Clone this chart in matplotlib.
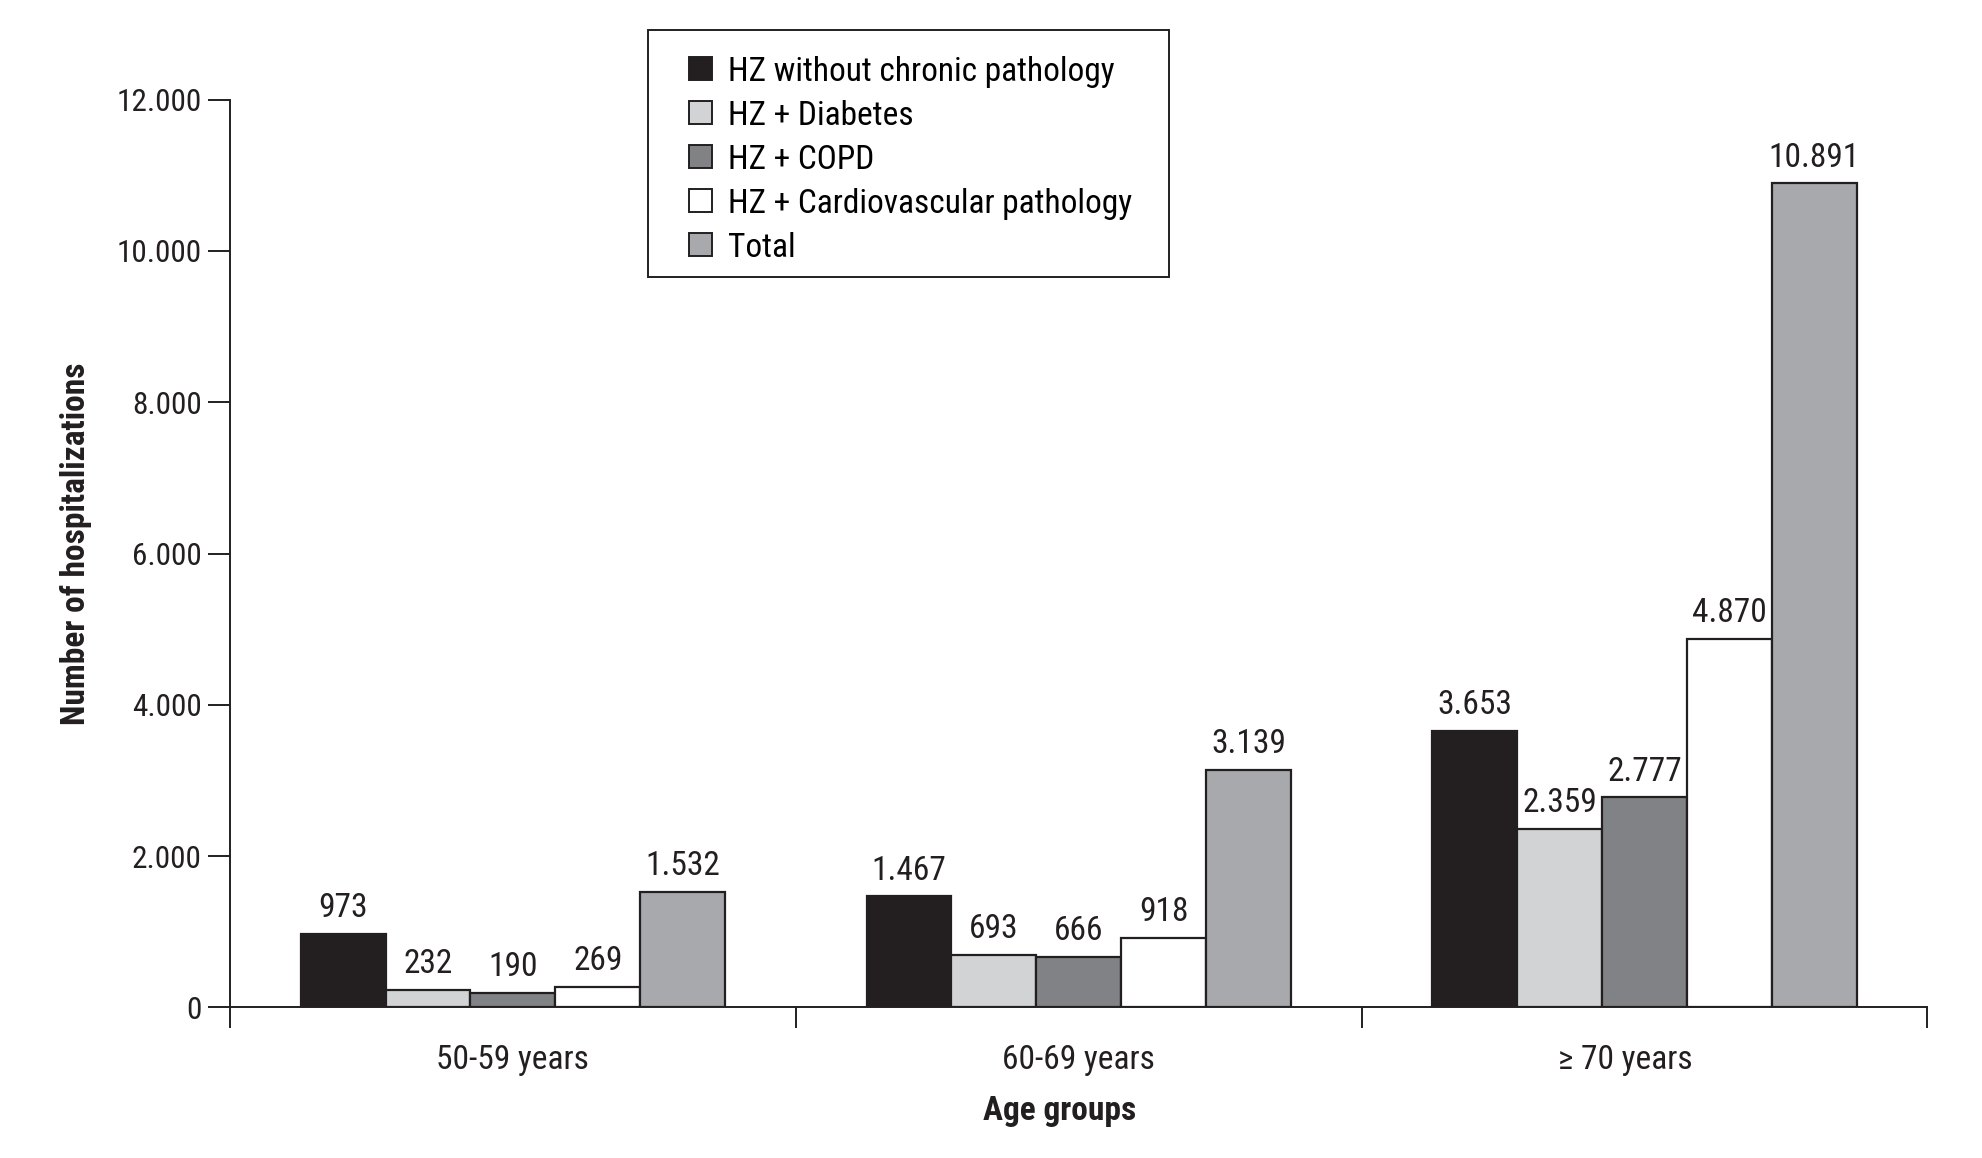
import numpy as np
import matplotlib
matplotlib.use("Agg")
import matplotlib.pyplot as plt
import matplotlib.transforms as mtransforms
from matplotlib import font_manager as fm
from matplotlib.patches import Rectangle
from matplotlib.legend_handler import HandlerPatch

# condensed sans close to the original Helvetica Condensed
available = {f.name for f in fm.fontManager.ttflist}
candidates = ['Roboto Condensed', 'Archivo Narrow', 'DejaVu Sans']
family = [c for c in candidates if c in available] + ['DejaVu Sans']
plt.rcParams['font.family'] = family
if family[0] == 'DejaVu Sans':
    plt.rcParams['font.stretch'] = 'condensed'

# data
age_groups = ['50-59 years', '60-69 years', '\u2265 70 years']
series_names = ['HZ without chronic pathology', 'HZ + Diabetes', 'HZ + COPD',
                'HZ + Cardiovascular pathology', 'Total']
no_chronic = [973, 1467, 3653]
diabetes = [232, 693, 2359]
copd = [190, 666, 2777]
cardio = [269, 918, 4870]
total = [1532, 3139, 10891]
y_ticks = [0, 2000, 4000, 6000, 8000, 10000, 12000]

colors = ['#231f20', '#d1d3d4', '#808285', '#ffffff', '#a7a9ac']
ink = '#231f20'


def fmt(v):
    # thousands separator is a dot
    return f"{v:,}".replace(',', '.')


def square_patch(legend, orig_handle, xdescent, ydescent, width, height, fontsize):
    # small square swatch, centred vertically in the row
    side = 16.5
    return Rectangle((-xdescent, -ydescent + (height - side) / 2), side, side)


fig = plt.figure(figsize=(19.83, 11.58), dpi=100)
ax = fig.add_axes([0.116, 0.130, 0.856, 0.784])

centers = np.arange(len(age_groups)) + 0.5
bar_w = 0.15
all_series = [no_chronic, diabetes, copd, cardio, total]

handles = []
for i, (vals, name, col) in enumerate(zip(all_series, series_names, colors)):
    xs = centers + (i - 2) * bar_w
    b = ax.bar(xs, vals, width=bar_w, color=col, edgecolor=ink,
               linewidth=1.6, label=name)
    handles.append(b)
    for x, v in zip(xs, vals):
        ax.text(x, v + 130, fmt(v), ha='center', va='bottom', fontsize=24,
                color=ink)

ax.set_xlim(0, 3)
ax.set_ylim(0, 12000)
ax.set_yticks(y_ticks)
ax.set_yticklabels([fmt(t) for t in y_ticks], fontsize=22.5, color=ink)
ax.set_xticks([0, 1, 2, 3])
ax.set_xticklabels([])
ax.set_xticks(centers, minor=True)
ax.set_xticklabels(age_groups, minor=True, fontsize=24, color=ink)
ax.tick_params(axis='x', which='minor', length=0, pad=26)
ax.tick_params(axis='x', which='major', length=15, width=1.4, color=ink)
ax.tick_params(axis='y', length=15.5, width=1.4, color=ink, pad=5)

# the last group label sits a little left of its group centre in the original
last = ax.get_xticklabels(minor=True)[2]
last.set_transform(last.get_transform() +
                   mtransforms.ScaledTranslation(-0.19, 0, fig.dpi_scale_trans))

for s in ['top', 'right']:
    ax.spines[s].set_visible(False)
for s in ['left', 'bottom']:
    ax.spines[s].set_linewidth(1.4)
    ax.spines[s].set_color(ink)

fig.text(0.0385, 0.5305, 'Number of hospitalizations', rotation=90,
         ha='center', va='center', fontsize=24, fontweight='bold', color=ink)
fig.text(0.5346, 0.041, 'Age groups', ha='center', va='center',
         fontsize=24, fontweight='bold', color=ink)

# legend box drawn separately so its padding matches the original
fig.patches.append(Rectangle((0.3266, 0.7608), 0.5895 - 0.3266, 0.9738 - 0.7608,
                             transform=fig.transFigure, facecolor='white',
                             edgecolor=ink, linewidth=1.4, zorder=5))
leg = fig.legend(handles, series_names, loc='upper left',
                 bbox_to_anchor=(0.3476, 0.952), fontsize=24, frameon=False,
                 handler_map={type(handles[0][0]): HandlerPatch(patch_func=square_patch)},
                 handlelength=0.69, handleheight=0.69, handletextpad=0.46,
                 labelspacing=0.36, borderpad=0, borderaxespad=0)
for p in leg.get_patches():
    p.set_edgecolor(ink)
    p.set_linewidth(1.4)
leg.set_zorder(6)

fig.savefig('out.png', dpi=100)
